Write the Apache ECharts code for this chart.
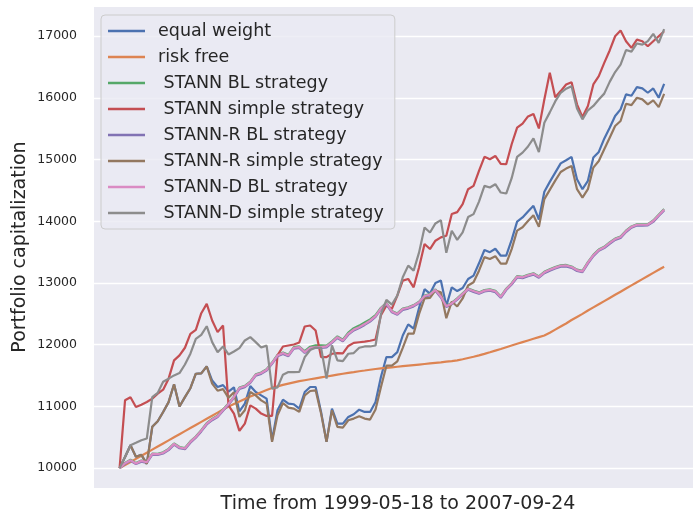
<!DOCTYPE html>
<html><head><meta charset="utf-8">
<script src="https://cdn.jsdelivr.net/npm/echarts@6/dist/echarts.min.js"></script>
<style>html,body{margin:0;padding:0;background:#fff}#c{width:693px;height:513px}</style>
</head><body><div id="c"></div>
<script>
// ---- data ----
const seriesNames = ['equal weight', 'risk free', ' STANN BL strategy', ' STANN simple strategy',
  ' STANN-R BL strategy', ' STANN-R simple strategy', ' STANN-D BL strategy', ' STANN-D simple strategy'];
const xTitle = 'Time from 1999-05-18 to 2007-09-24';
const yTitle = 'Portfolio capitalization';
const yTicks = [10000, 11000, 12000, 13000, 14000, 15000, 16000, 17000];

const equalWeight = [
  10000, 10180, 10370, 10185, 10215, 10070, 10670, 10760, 10910, 11070,
  11360, 11000, 11150, 11295, 11530, 11535, 11650, 11420, 11315, 11345,
  11240, 11310, 10920, 11045, 11330, 11234, 11180, 11126, 10453, 10938,
  11110, 11045, 11035, 10965, 11234, 11315, 11315, 10911, 10426, 10965,
  10722, 10722, 10830, 10873, 10948, 10911, 10911, 11072, 11480, 11800,
  11800, 11880, 12150, 12330, 12260, 12600, 12900, 12830, 13000, 13040,
  12630, 12930, 12870, 12920, 13066, 13120, 13320, 13535, 13500, 13555,
  13443, 13443, 13700, 13995, 14063, 14160, 14252, 14030, 14480, 14640,
  14790, 14940, 14990, 15044, 14683, 14521, 14656, 15033, 15125, 15340,
  15518, 15707, 15815, 16057, 16035, 16175, 16154, 16084, 16154, 16003,
  16229];
const riskFree = [
  10000, 10050, 10100, 10150, 10200, 10250, 10300, 10350, 10400, 10450,
  10500, 10550, 10600, 10650, 10700, 10750, 10800, 10850, 10900, 10950,
  11000, 11040, 11080, 11120, 11160, 11195, 11230, 11265, 11300, 11325,
  11350, 11370, 11390, 11410, 11425, 11440, 11455, 11470, 11485, 11500,
  11515, 11530, 11545, 11557, 11570, 11582, 11595, 11607, 11616, 11625,
  11634, 11643, 11652, 11661, 11670, 11679, 11688, 11697, 11706, 11715,
  11725, 11735, 11746, 11765, 11785, 11805, 11827, 11852, 11878, 11905,
  11932, 11960, 11988, 12015, 12042, 12069, 12096, 12123, 12150, 12195,
  12245, 12295, 12345, 12400, 12450, 12500, 12554, 12605, 12656, 12707,
  12758, 12809, 12860, 12911, 12962, 13013, 13064, 13115, 13165, 13215,
  13265];
const stannBL = [
  10000, 10085, 10135, 10082, 10124, 10102, 10236, 10233, 10257, 10312,
  10400, 10342, 10326, 10433, 10513, 10615, 10729, 10797, 10848, 10950,
  11047, 11160, 11306, 11333, 11402, 11521, 11549, 11603, 11711, 11835,
  11873, 11836, 11960, 11972, 11895, 11968, 11990, 11992, 11985, 12055,
  12136, 12082, 12195, 12268, 12310, 12360, 12410, 12480, 12600, 12678,
  12548, 12508, 12588, 12608, 12643, 12698, 12798, 12823, 12897, 12788,
  12633, 12678, 12751, 12832, 12913, 12878, 12848, 12885, 12897, 12874,
  12783, 12908, 12998, 13112, 13101, 13133, 13158, 13108, 13182, 13223,
  13258, 13288, 13293, 13268, 13218, 13198, 13338, 13458, 13544, 13588,
  13658, 13721, 13753, 13848, 13918, 13953, 13953, 13956, 14013, 14108,
  14198];
const stannSimple = [
  10000, 11099, 11150, 10992, 11029, 11072, 11126, 11207, 11272, 11450,
  11746, 11827, 11951, 12177, 12242, 12511, 12662, 12393, 12204, 12312,
  11018, 10884, 10604, 10722, 11018, 10965, 10884, 10846, 10846, 11827,
  11972, 11988, 12004, 12037, 12296, 12312, 12231, 11800, 11800, 11854,
  11865, 11860, 11980, 12030, 12040, 12050, 12065, 12085, 12480, 12635,
  12580, 12797, 13039, 13066, 12931, 13255, 13632, 13551, 13686, 13740,
  13767, 14120, 14150, 14279, 14521, 14575, 14817, 15046, 15006, 15060,
  14930, 14925, 15249, 15518, 15585, 15700, 15740, 15505, 15976, 16407,
  16010, 16111, 16219, 16256, 15896, 15690, 15868, 16219, 16353, 16568,
  16770, 17000, 17092, 16919, 16811, 16946, 16919, 16838, 16919, 17000,
  17081];
const stannRBL = [
  10000, 10070, 10118, 10066, 10105, 10084, 10218, 10214, 10238, 10292,
  10380, 10322, 10306, 10412, 10493, 10595, 10708, 10777, 10828, 10930,
  11026, 11140, 11285, 11313, 11382, 11500, 11528, 11581, 11690, 11813,
  11851, 11814, 11937, 11948, 11866, 11937, 11947, 11947, 11958, 12028,
  12109, 12055, 12163, 12231, 12271, 12321, 12376, 12451, 12576, 12656,
  12526, 12486, 12566, 12586, 12621, 12676, 12776, 12801, 12875, 12766,
  12611, 12656, 12729, 12810, 12891, 12856, 12826, 12863, 12875, 12852,
  12761, 12886, 12976, 13090, 13079, 13111, 13136, 13086, 13160, 13201,
  13236, 13266, 13271, 13246, 13196, 13176, 13316, 13436, 13522, 13566,
  13636, 13699, 13731, 13826, 13896, 13931, 13931, 13934, 13991, 14086,
  14176];
const stannRSimple = [
  10000, 10180, 10370, 10185, 10215, 10070, 10670, 10760, 10910, 11070,
  11360, 11000, 11150, 11295, 11530, 11535, 11650, 11370, 11255, 11280,
  11140, 11230, 10830, 10938, 11234, 11180, 11099, 11045, 10426, 10857,
  11056, 10981, 10965, 10911, 11180, 11250, 11261, 10884, 10426, 10938,
  10668, 10657, 10776, 10803, 10841, 10803, 10787, 10950, 11315, 11660,
  11660, 11730, 11950, 12180, 12180, 12500, 12750, 12760, 12880, 12850,
  12430, 12700, 12620, 12750, 12960, 13012, 13200, 13420, 13390, 13435,
  13315, 13315, 13550, 13850, 13905, 14005, 14100, 13910, 14360, 14510,
  14660, 14800, 14855, 14898, 14521, 14386, 14521, 14871, 14979, 15168,
  15356, 15545, 15626, 15906, 15884, 16003, 15977, 15896, 15960, 15852,
  16067];
const stannDBL = [
  10000, 10080, 10129, 10075, 10118, 10095, 10230, 10226, 10250, 10305,
  10393, 10334, 10318, 10426, 10506, 10608, 10722, 10790, 10841, 10943,
  11040, 11153, 11299, 11326, 11395, 11514, 11541, 11595, 11703, 11827,
  11865, 11827, 11951, 11961, 11880, 11951, 11961, 11961, 11972, 12042,
  12123, 12069, 12177, 12245, 12285, 12335, 12390, 12465, 12590, 12670,
  12540, 12500, 12580, 12600, 12635, 12690, 12790, 12815, 12889, 12780,
  12625, 12670, 12743, 12824, 12905, 12870, 12840, 12877, 12889, 12866,
  12775, 12900, 12990, 13104, 13093, 13125, 13150, 13100, 13174, 13215,
  13250, 13280, 13285, 13260, 13210, 13190, 13330, 13450, 13536, 13580,
  13650, 13713, 13745, 13840, 13910, 13945, 13945, 13948, 14005, 14100,
  14190];
const stannDSimple = [
  10000, 10180, 10372, 10410, 10453, 10480, 11150, 11220, 11400, 11450,
  11503, 11541, 11680, 11854, 12096, 12161, 12300, 12042, 11880, 11972,
  11843, 11890, 11945, 12069, 12123, 12042, 11955, 11985, 11288, 11310,
  11515, 11557, 11557, 11560, 11800, 11915, 11955, 11951, 11450, 11988,
  11746, 11735, 11854, 11865, 11951, 11972, 11972, 11988, 12500, 12727,
  12651, 12797, 13093, 13282, 13201, 13497, 13901, 13820, 13966, 14020,
  13490, 13848, 13700, 13820, 14070, 14117, 14320, 14575, 14548, 14602,
  14467, 14451, 14700, 15045, 15114, 15213, 15343, 15122, 15599, 15766,
  15944, 16084, 16150, 16191, 15830, 15653, 15800, 15870, 15976, 16070,
  16260, 16420, 16540, 16776, 16750, 16883, 16865, 16920, 17038, 16892,
  17115];

const allSeries = [equalWeight, riskFree, stannBL, stannSimple, stannRBL, stannRSimple, stannDBL, stannDSimple];
const colors = ['#4C72B0', '#DD8452', '#55A868', '#C44E52', '#8172B3', '#937860', '#DA8BC3', '#8C8C8C'];

const FONT = 'DejaVu Sans';
const chart = echarts.init(document.getElementById('c'), null, {renderer: 'canvas'});
chart.setOption({
  animation: false,
  backgroundColor: '#ffffff',
  color: colors,
  grid: {left: 94, top: 7, width: 613, height: 481, show: true, backgroundColor: '#EAEAF2', borderWidth: 0, containLabel: false},
  xAxis: {
    type: 'value', min: -4.7, max: 105.3,
    axisLine: {show: false}, axisTick: {show: false}, axisLabel: {show: false}, splitLine: {show: false}
  },
  yAxis: {
    type: 'value', min: 9678, max: 17474, splitNumber: 8, minInterval: 1000, maxInterval: 1000,
    axisLine: {show: false}, axisTick: {show: false},
    axisLabel: {
      margin: 17, fontSize: 12.5, fontFamily: FONT, color: '#262626',
      showMinLabel: false, showMaxLabel: false,
      formatter: v => (yTicks.indexOf(v) >= 0 ? String(v) : '')
    },
    splitLine: {show: true, showMinLine: false, showMaxLine: false, lineStyle: {color: '#ffffff', width: 1.3}}
  },
  legend: {
    orient: 'vertical', left: 101, top: 15,
    padding: [6, 11, 6, 7],
    backgroundColor: 'rgba(234,234,242,0.8)', borderColor: '#cccccc', borderWidth: 1, borderRadius: 4,
    itemWidth: 37, itemHeight: 2.5, itemGap: 6, icon: 'rect',
    textStyle: {fontSize: 17.5, fontFamily: FONT, color: '#262626', lineHeight: 20, padding: [0, 0, 0, 8]},
    data: seriesNames
  },
  graphic: [
    {type: 'text', x: 398, y: 504, style: {text: xTitle, font: '19px "DejaVu Sans"', fill: '#262626', textAlign: 'center', textVerticalAlign: 'middle'}},
    {type: 'text', x: 20, y: 247, rotation: Math.PI / 2, style: {text: yTitle, font: '19px "DejaVu Sans"', fill: '#262626', textAlign: 'center', textVerticalAlign: 'middle'}}
  ],
  series: allSeries.map((arr, k) => ({
    name: seriesNames[k], type: 'line', showSymbol: false, symbol: 'none',
    lineStyle: {width: 2.2, color: colors[k]}, itemStyle: {color: colors[k]},
    data: arr.map((v, i) => [i, v]), z: 2 + k * 0.01
  }))
});
</script></body></html>
